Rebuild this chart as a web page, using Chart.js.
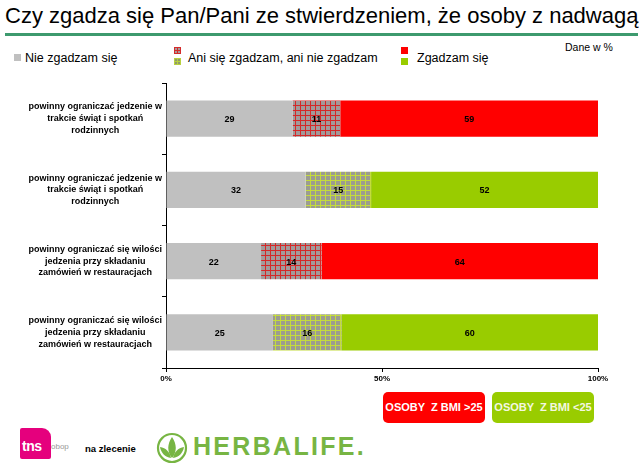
<!DOCTYPE html>
<html>
<head>
<meta charset="utf-8">
<script src="https://cdn.jsdelivr.net/npm/chart.js@4"></script>
<style>
  html, body { margin:0; padding:0; background:#fff; }
  body { width:640px; height:470px; position:relative; overflow:hidden; font-family:"Liberation Sans", Arial, sans-serif; }
  .abs { position:absolute; white-space:pre; }
  #title { left:5px; top:3px; font-size:22px; color:#000; }
  #rule { left:5px; top:33px; width:633px; height:3px; background:#3d9a6e; }
  .sw { position:absolute; width:7px; height:7px; }
  .leg { font-size:12.5px; color:#000; line-height:15px; }
  .gridR { background-color:#a89a9a; background-image:linear-gradient(to right,#d42a2a 1px,transparent 1px),linear-gradient(to bottom,#d42a2a 1px,transparent 1px); background-size:3px 3px; }
  .gridG { background-color:#8f9a6a; background-image:linear-gradient(to right,#b8d040 1px,transparent 1px),linear-gradient(to bottom,#b8d040 1px,transparent 1px); background-size:3px 3px; }
  .box { position:absolute; top:392px; height:31px; width:102px; border-radius:5px; color:#fff; font-weight:bold; font-size:11px; line-height:31px; text-align:center; white-space:pre; }
  #c { position:absolute; left:0; top:80px; }
</style>
</head>
<body>
<div class="abs" id="title">Czy zgadza się Pan/Pani ze stwierdzeniem, że osoby z nadwagą</div>
<div class="abs" id="rule"></div>

<div class="sw" style="left:14px;top:54px;background:#c0c0c0"></div>
<div class="abs leg" style="left:25px;top:51px">Nie zgadzam się</div>

<div class="sw gridR" style="left:174px;top:47px"></div>
<div class="sw gridG" style="left:174px;top:58px"></div>
<div class="abs leg" style="left:188px;top:51px">Ani się zgadzam, ani nie zgadzam</div>

<div class="sw" style="left:401px;top:47px;background:#ff0000"></div>
<div class="sw" style="left:401px;top:58px;background:#99cc00"></div>
<div class="abs leg" style="left:417px;top:51px">Zgadzam się</div>

<div class="abs" style="left:565px;top:41px;font-size:10.5px;color:#000">Dane w %</div>

<canvas id="c" width="640" height="310"></canvas>

<div class="box" id="box1" style="left:383px;background:#ff0000"></div>
<div class="box" id="box2" style="left:492px;background:#99cc00;color:#f4f8e0"></div>

<!-- tns obop logo -->
<div class="abs" style="left:20px;top:428px;width:31px;height:31px;background:#e5007d;border-radius:2px 9px 2px 2px"></div>
<div class="abs" style="left:22px;top:438px;font-size:14px;font-weight:bold;color:#fff;letter-spacing:-0.5px">tns</div>
<div class="abs" style="left:51px;top:442px;font-size:8px;color:#999">obop</div>
<div class="abs" style="left:85px;top:443px;font-size:9.5px;font-weight:bold;color:#000">na zlecenie</div>

<!-- Herbalife logo -->
<svg class="abs" style="left:156px;top:432px" width="32" height="32" viewBox="0 0 32 32">
  <circle cx="16" cy="16" r="14" fill="none" stroke="#77b543" stroke-width="2.2"/>
  <path d="M16 26 C11 20 11 12 16 5 C21 12 21 20 16 26 Z" fill="#77b543"/>
  <path d="M15 26 C9 25 5 21 4 15 C10 16 14 20 15 26 Z" fill="#77b543"/>
  <path d="M17 26 C23 25 27 21 28 15 C22 16 18 20 17 26 Z" fill="#77b543"/>
</svg>
<div class="abs" style="left:193px;top:432px;font-size:25px;font-weight:bold;color:#77b543;letter-spacing:2.3px">HERBALIFE.</div>

<script>
// ---- data ----
const categories = [
  ['powinny ograniczać jedzenie w', 'trakcie świąt i spotkań', 'rodzinnych'],
  ['powinny ograniczać jedzenie w', 'trakcie świąt i spotkań', 'rodzinnych'],
  ['powinny ograniczać się wilości', 'jedzenia przy składaniu', 'zamówień w restauracjach'],
  ['powinny ograniczać się wilości', 'jedzenia przy składaniu', 'zamówień w restauracjach']
];
const bmiGroup = ['high', 'low', 'high', 'low'];
const seriesNames = ['Nie zgadzam się', 'Ani się zgadzam, ani nie zgadzam', 'Zgadzam się'];
const disagree = [29, 32, 22, 25];
const neutral  = [11, 15, 14, 16];
const agree    = [59, 52, 64, 60];
const xTickLabels = ['0%', '50%', '100%'];
const groupLabels = ['OSOBY  Z BMI >25', 'OSOBY  Z BMI <25'];

document.getElementById('box1').textContent = groupLabels[0];
document.getElementById('box2').textContent = groupLabels[1];

// 100% stacked: each bar scaled to its total
const totals = disagree.map((v, i) => v + neutral[i] + agree[i]);
const share = arr => arr.map((v, i) => v / totals[i] * 100);

function makePattern(base, line) {
  const p = document.createElement('canvas');
  p.width = 5; p.height = 5;
  const g = p.getContext('2d');
  g.fillStyle = base; g.fillRect(0, 0, 5, 5);
  g.fillStyle = line; g.fillRect(0, 0, 1, 5); g.fillRect(0, 0, 5, 1);
  return document.getElementById('c').getContext('2d').createPattern(p, 'repeat');
}
const patRed = makePattern('#a29a9a', '#d42828');
const patGreen = makePattern('#9c9c90', '#c4dc3c');

const FONT = '"Liberation Sans", Arial, sans-serif';

const valueLabels = {
  id: 'valueLabels',
  afterDatasetsDraw(chart) {
    const ctx = chart.ctx;
    ctx.save();
    ctx.font = 'bold 9px ' + FONT;
    ctx.fillStyle = '#000';
    ctx.textAlign = 'center';
    ctx.textBaseline = 'middle';
    chart.data.datasets.forEach((ds, di) => {
      chart.getDatasetMeta(di).data.forEach((el, i) => {
        ctx.fillText(String(ds.raw[i]), (el.x + el.base) / 2, el.y + 1);
      });
    });
    ctx.restore();
  }
};

new Chart(document.getElementById('c'), {
  type: 'bar',
  data: {
    labels: categories,
    datasets: [
      { label: seriesNames[0], data: share(disagree), raw: disagree, backgroundColor: '#c0c0c0' },
      { label: seriesNames[1], data: share(neutral), raw: neutral,
        backgroundColor: bmiGroup.map(g => g === 'high' ? patRed : patGreen) },
      { label: seriesNames[2], data: share(agree), raw: agree,
        backgroundColor: bmiGroup.map(g => g === 'high' ? '#ff0000' : '#99cc00') }
    ]
  },
  options: {
    indexAxis: 'y',
    responsive: false,
    animation: false,
    devicePixelRatio: 1,
    layout: { padding: { left: 0, right: 42, top: 3, bottom: 0 } },
    datasets: { bar: { barPercentage: 0.51, categoryPercentage: 1, borderWidth: 0 } },
    plugins: { legend: { display: false }, tooltip: { enabled: false } },
    scales: {
      x: {
        stacked: true, min: 0, max: 100,
        afterFit: s => { s.height = 22; s.paddingLeft = 0; s.paddingRight = 0; },
        grid: { drawOnChartArea: false, tickLength: 4, color: '#000' },
        border: { color: '#000', width: 1 },
        ticks: { stepSize: 50, padding: 2, color: '#000', font: { family: FONT, size: 8, weight: 'bold' },
                 callback: (v, i) => xTickLabels[i] }
      },
      y: {
        stacked: true,
        afterFit: s => { s.width = 166; s.paddingTop = 0; s.paddingBottom = 0; },
        grid: { drawOnChartArea: false, offset: true, tickLength: 4, color: '#000' },
        border: { color: '#000', width: 1 },
        ticks: { crossAlign: 'center', padding: 0, color: '#000',
                 font: { family: FONT, size: 9, weight: 'bold', lineHeight: 1.3 } }
      }
    }
  },
  plugins: [valueLabels]
});
</script>
</body>
</html>
